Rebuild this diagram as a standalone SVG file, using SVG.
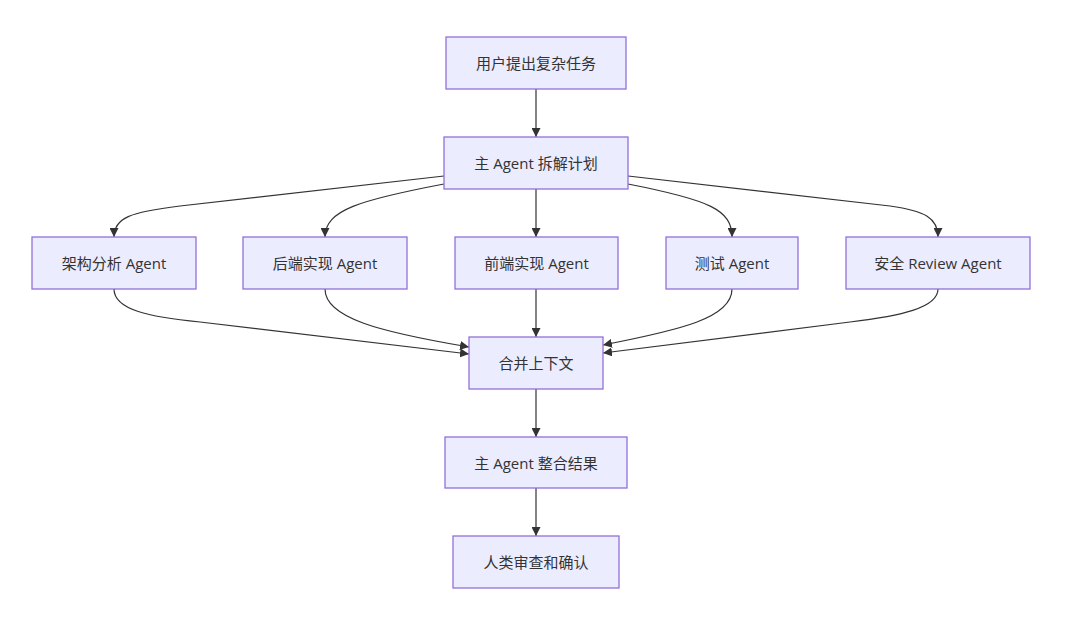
<svg xmlns="http://www.w3.org/2000/svg" width="1065" height="624" viewBox="0 0 1065 624">
<style>
.node rect{fill:#ECECFF;stroke:#9370DB;stroke-width:1.3}
.node text{font-family:"Open Sans","Noto Sans CJK SC",sans-serif;font-size:15px;fill:#333;text-anchor:middle;dominant-baseline:central}
.edges path{fill:none;stroke:#333;stroke-width:1.2;marker-end:url(#arrow)}
</style>
<defs>
<marker id="arrow" viewBox="0 0 10 10" refX="10" refY="5" markerUnits="userSpaceOnUse" markerWidth="9" markerHeight="9" orient="auto">
<path d="M0,0 L10,5 L0,10 z" fill="#333"/>
</marker>
</defs>
<rect width="1065" height="624" fill="#fff"/>
<g class="edges">
<path d="M536,89 L536,137"/>
<path d="M444,176 L180,206 C130,212 114,218 114,237"/>
<path d="M444,184 C360,200 325,210 325,237"/>
<path d="M536,189 L536,237"/>
<path d="M628,184 C710,200 732,210 732,237"/>
<path d="M628,176 L890,206 C925,211 938,218 938,237"/>
<path d="M114,289 C114,310 150,317 200,322 L469,354"/>
<path d="M325,289 C325,318 380,332 469,347"/>
<path d="M536,289 L536,337"/>
<path d="M732,289 C732,318 680,330 603,345"/>
<path d="M938,289 C938,308 900,316 850,322 L603,353"/>
<path d="M536,389 L536,437"/>
<path d="M536,488 L536,536"/>
</g>
<g id="n1" class="node"><rect x="446" y="37" width="180" height="52"/><text x="536" y="63">用户提出复杂任务</text></g>
<g id="n2" class="node"><rect x="444" y="137" width="184" height="52"/><text x="536" y="163">主 Agent 拆解计划</text></g>
<g id="n3" class="node"><rect x="32" y="237" width="164" height="52"/><text x="114" y="263">架构分析 Agent</text></g>
<g id="n4" class="node"><rect x="243" y="237" width="164" height="52"/><text x="325" y="263">后端实现 Agent</text></g>
<g id="n5" class="node"><rect x="455" y="237" width="163" height="52"/><text x="536.5" y="263">前端实现 Agent</text></g>
<g id="n6" class="node"><rect x="666" y="237" width="132" height="52"/><text x="732" y="263">测试 Agent</text></g>
<g id="n7" class="node"><rect x="846" y="237" width="184" height="52"/><text x="938" y="263">安全 Review Agent</text></g>
<g id="n8" class="node"><rect x="469" y="337" width="134" height="52"/><text x="536" y="363">合并上下文</text></g>
<g id="n9" class="node"><rect x="445" y="437" width="182" height="51"/><text x="536" y="463">主 Agent 整合结果</text></g>
<g id="n10" class="node"><rect x="453" y="536" width="166" height="52"/><text x="536" y="562">人类审查和确认</text></g>
</svg>
